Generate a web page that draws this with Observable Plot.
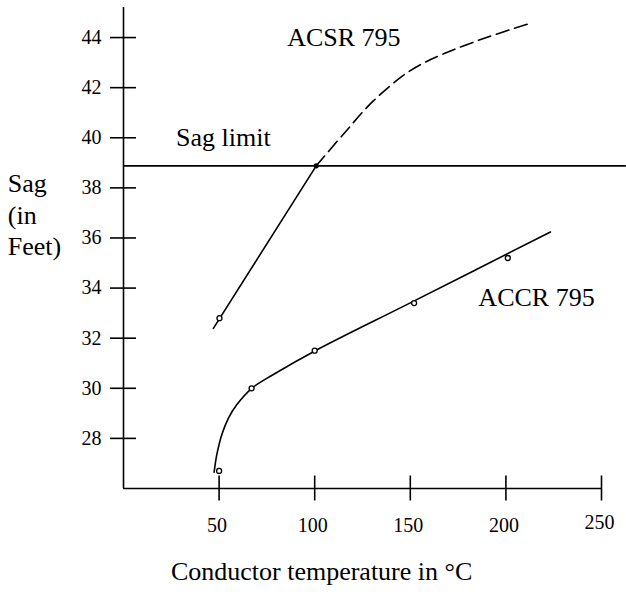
<!DOCTYPE html>
<html><head><meta charset="utf-8">
<script src="https://cdn.jsdelivr.net/npm/d3@7"></script>
<script src="https://cdn.jsdelivr.net/npm/@observablehq/plot@0.6"></script>
<style>body{margin:0;background:#fff}</style>
</head><body><div id="chart"></div>
<script>
// ---- data ----
const xTicks = [50, 100, 150, 200];
const xTickLast = [250];
const yTicks = [28, 30, 32, 34, 36, 38, 40, 42, 44];

const accrCurveT   = [47.4, 48.8, 51.4, 54.9, 59.3, 67.1, 78.4, 100.8, 150, 223.3];
const accrCurveSag = [26.65, 27.35, 28.15, 28.81, 29.35, 30.0, 30.55, 31.52, 33.41, 36.24];
const accrPointT   = [50, 67, 100, 152, 201];
const accrPointSag = [26.7, 30.0, 31.5, 33.4, 35.2];

const acsrSolidT   = [47.0, 100.8];
const acsrSolidSag = [32.39, 38.88];
const acsrDashT    = [100.8, 115.1, 130.8, 150, 167.4, 190.2, 212.8];
const acsrDashSag  = [38.88, 40.15, 41.48, 42.68, 43.35, 44.01, 44.57];
const acsrPointT   = [50.2];
const acsrPointSag = [32.8];
const crossT = [100.8];
const crossSag = [38.88];

const sagLimit = 38.88;

const xLabel = "Conductor temperature in °C";
const yLabel = "Sag\n(in\nFeet)";

const zip = (a, b) => a.map((v, i) => ({x: v, y: b[i]}));

const serif = "Liberation Serif";

const chart = Plot.plot({
  width: 626, height: 597,
  marginLeft: 123, marginRight: 25, marginTop: 7, marginBottom: 109,
  style: {fontFamily: serif, fontSize: "20px", color: "#000", background: "#fff", overflow: "visible"},
  x: {domain: [0, 250], axis: null},
  y: {domain: [26, 45.2], axis: null},
  marks: [
    // axis lines
    Plot.ruleX([0], {y1: 26, y2: 45.2, strokeWidth: 1.6}),
    Plot.ruleY([26], {x1: 0, x2: 250, strokeWidth: 1.6}),
    // ticks crossing the axes
    Plot.axisY(yTicks, {tickSize: 26, dx: 13, fill: "none", label: null, strokeWidth: 1.6}),
    Plot.axisX([...xTicks, ...xTickLast], {tickSize: 25, dy: -12.5, fill: "none", label: null, strokeWidth: 1.6}),
    // tick labels
    Plot.text(yTicks, {y: d => d, frameAnchor: "left", dx: -22, textAnchor: "end", fontSize: 20, fontFamily: serif}),
    Plot.text(xTicks, {x: d => d, frameAnchor: "bottom", dy: 43, dx: -2, fontSize: 20, fontFamily: serif}),
    Plot.text(xTickLast, {x: d => d, frameAnchor: "bottom", dy: 40, dx: -2, fontSize: 20, fontFamily: serif}),
    // sag limit
    Plot.ruleY([sagLimit], {x1: 0, x2: 263, strokeWidth: 1.6}),
    // ACSR
    Plot.line(zip(acsrSolidT, acsrSolidSag), {x: "x", y: "y", strokeWidth: 1.6}),
    Plot.line(zip(acsrDashT, acsrDashSag), {x: "x", y: "y", strokeWidth: 1.6, strokeDasharray: "13,6", curve: "catmull-rom"}),
    Plot.dot(zip(acsrPointT, acsrPointSag), {x: "x", y: "y", r: 2.5, stroke: "#000", fill: "#fff", strokeWidth: 1.3}),
    Plot.dot(zip(crossT, crossSag), {x: "x", y: "y", r: 2.6, fill: "#000"}),
    // ACCR
    Plot.line(zip(accrCurveT, accrCurveSag), {x: "x", y: "y", strokeWidth: 1.6, curve: "catmull-rom"}),
    Plot.dot(zip(accrPointT, accrPointSag), {x: "x", y: "y", r: 2.5, stroke: "#000", fill: "#fff", strokeWidth: 1.3}),
    // annotations
    Plot.text(["ACSR 795"], {x: 85.6, y: 44.0, textAnchor: "start", fontSize: 26, fontFamily: serif}),
    Plot.text(["Sag limit"], {x: 27.5, y: 40, textAnchor: "start", fontSize: 26, fontFamily: serif}),
    Plot.text(["ACCR 795"], {x: 185.6, y: 33.6, textAnchor: "start", fontSize: 26, fontFamily: serif}),
    Plot.text([yLabel], {x: -60.5, y: 36.97, textAnchor: "start", fontSize: 26, lineHeight: 1.21, fontFamily: serif}),
    Plot.text([xLabel], {x: 103.6, frameAnchor: "bottom", dy: 91, fontSize: 26, fontFamily: serif})
  ]
});
document.getElementById("chart").appendChild(chart);
</script>
</body></html>
